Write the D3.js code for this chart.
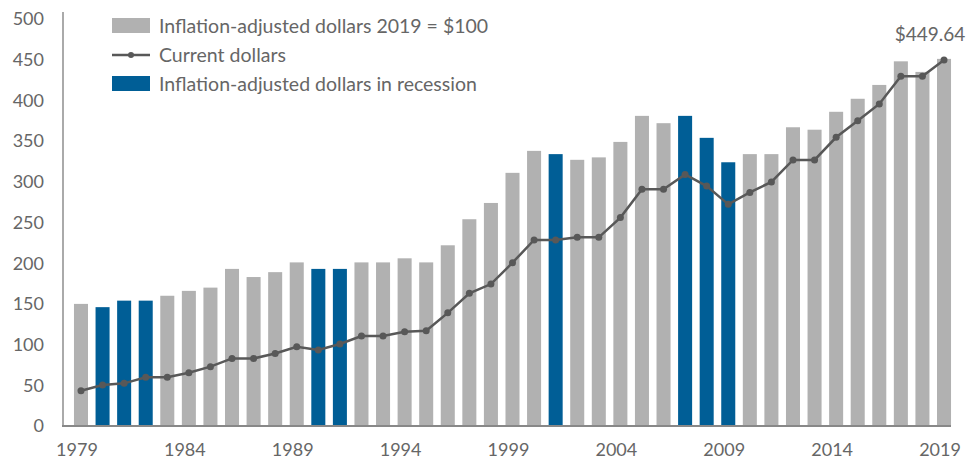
<!DOCTYPE html>
<html>
<head>
<meta charset="utf-8">
<script src="https://cdn.jsdelivr.net/npm/d3@7"></script>
<style>
  body { margin: 0; background: #fff; }
  text { font-family: Lato, "Noto Sans", sans-serif; fill: #666; }
</style>
</head>
<body>
<div id="wrapper"></div>
<script>
// data
const years = d3.range(1979, 2020)
const adjusted = [150, 146, 154, 154, 160, 166, 170, 193, 183, 189,
  201, 193, 193, 201, 201, 206, 201, 222, 254, 274,
  311, 338, 334, 327, 330, 349, 381, 372, 381, 354,
  324, 334, 334, 367, 364, 386, 402, 419, 448, 435, 451]
const current = [43.4, 50.4, 52.4, 59.8, 59.8, 65.5, 72.9, 83, 83, 89,
  97.4, 93.4, 100.7, 110.6, 110.6, 115.9, 117, 139, 163, 174.4,
  200.6, 228.5, 228.5, 231.8, 231.8, 256, 290.8, 290.8, 309, 294.8,
  272.3, 287, 299.8, 326.8, 326.8, 354.7, 375, 395.6, 429.6, 429.6, 449.64]
const recessionYears = [1980, 1981, 1982, 1990, 1991, 2001, 2007, 2008, 2009]
const yTicks = [0, 50, 100, 150, 200, 250, 300, 350, 400, 450, 500]
const xTickYears = [1979, 1984, 1989, 1994, 1999, 2004, 2009, 2014, 2019]
const legendLabels = [
  "Inflation-adjusted dollars 2019 = $100",
  "Current dollars",
  "Inflation-adjusted dollars in recession",
]

const dataset = years.map((year, i) => ({
  year,
  adjusted: adjusted[i],
  current: current[i],
  recession: recessionYears.includes(year),
}))

const width = 969
const height = 462
const grey = "#b1b1b1"
const blue = "#005e96"
const lineColor = "#585858"

const svg = d3.select("#wrapper").append("svg")
  .attr("width", width)
  .attr("height", height)

const xScale = d3.scaleBand()
  .domain(years)
  .range([70.2, 954.8])
  .paddingInner(0.35)
  .paddingOuter(0.175)

const yScale = d3.scaleLinear()
  .domain([0, 500])
  .range([426, 19])

const cx = d => xScale(d.year) + xScale.bandwidth() / 2

// bars
svg.append("g")
  .selectAll("rect")
  .data(dataset)
  .join("rect")
    .attr("x", d => xScale(d.year))
    .attr("y", d => yScale(d.adjusted))
    .attr("width", xScale.bandwidth())
    .attr("height", d => yScale(0) - yScale(d.adjusted))
    .attr("fill", d => d.recession ? blue : grey)

// axes
svg.append("line")
  .attr("x1", 63).attr("x2", 63)
  .attr("y1", 12).attr("y2", yScale(0))
  .attr("stroke", "#aaa").attr("stroke-width", 2)
svg.append("line")
  .attr("x1", 62).attr("x2", 951)
  .attr("y1", yScale(0)).attr("y2", yScale(0))
  .attr("stroke", "#888").attr("stroke-width", 2)

svg.append("g")
  .selectAll("text")
  .data(yTicks)
  .join("text")
    .attr("x", 44)
    .attr("y", d => yScale(d))
    .attr("dy", "0.35em")
    .attr("text-anchor", "end")
    .style("font-size", "18px")
    .text(d => d)

svg.append("g")
  .selectAll("text")
  .data(xTickYears)
  .join("text")
    .attr("x", d => xScale(d) + xScale.bandwidth() / 2 - 4)
    .attr("y", 450)
    .attr("dy", "0.35em")
    .attr("text-anchor", "middle")
    .style("font-size", "18px")
    .text(d => d)

// current dollars line
const line = d3.line()
  .x(cx)
  .y(d => yScale(d.current))

svg.append("path")
  .datum(dataset)
  .attr("d", line)
  .attr("fill", "none")
  .attr("stroke", lineColor)
  .attr("stroke-width", 2.5)

svg.append("g")
  .selectAll("circle")
  .data(dataset)
  .join("circle")
    .attr("cx", cx)
    .attr("cy", d => yScale(d.current))
    .attr("r", 3.5)
    .attr("fill", lineColor)

const last = dataset[dataset.length - 1]
svg.append("text")
  .attr("x", cx(last) - 14)
  .attr("y", yScale(last.current) - 26)
  .attr("dy", "0.35em")
  .attr("text-anchor", "middle")
  .style("font-size", "19px")
  .text(d3.format("$.2f")(last.current))

// legend
const legend = svg.append("g")
const rowY = [26, 55, 84]
legend.append("rect")
  .attr("x", 112).attr("y", rowY[0] - 8)
  .attr("width", 38).attr("height", 15)
  .attr("fill", grey)
legend.append("line")
  .attr("x1", 112).attr("x2", 150)
  .attr("y1", rowY[1]).attr("y2", rowY[1])
  .attr("stroke", lineColor).attr("stroke-width", 2.5)
legend.append("circle")
  .attr("cx", 131).attr("cy", rowY[1]).attr("r", 3)
  .attr("fill", lineColor)
legend.append("rect")
  .attr("x", 112).attr("y", rowY[2] - 8)
  .attr("width", 38).attr("height", 15)
  .attr("fill", blue)
legend.selectAll("text")
  .data(legendLabels)
  .join("text")
    .attr("x", 159)
    .attr("y", (d, i) => rowY[i])
    .attr("dy", "0.35em")
    .style("font-size", "19.5px")
    .text(d => d)
</script>
</body>
</html>
